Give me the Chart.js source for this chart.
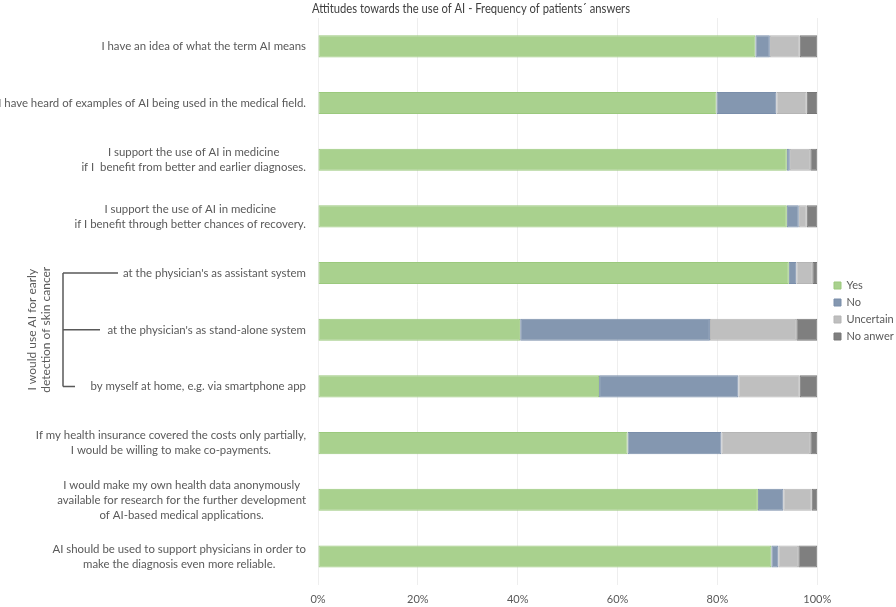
<!DOCTYPE html>
<html>
<head>
<meta charset="utf-8">
<title>Attitudes towards the use of AI</title>
<script src="https://cdn.jsdelivr.net/npm/chart.js@4.4.1/dist/chart.umd.min.js"></script>
<style>
    html, body { margin: 0; padding: 0; background: #fff; }
    #wrap { width: 896px; height: 607px; position: relative; }
</style>
</head>
<body>
<div id="wrap"><canvas id="chart"></canvas></div>
<script>
// Attitudes towards the use of AI - stacked bar chart

const chartTitle = 'Attitudes towards the use of AI - Frequency of patients\u00b4 answers';

const categories = [
    ['I have an idea of what the term AI means'],
    ['I have heard of examples of AI being used in the medical field.'],
    ['I support the use of AI in medicine', 'if I  benefit from better and earlier diagnoses.'],
    ['I support the use of AI in medicine', 'if I benefit through better chances of recovery.'],
    ["at the physician's as assistant system"],
    ["at the physician's as stand-alone system"],
    ['by myself at home, e.g. via smartphone app'],
    ['If my health insurance covered the costs only partially,', 'I would be willing to make co-payments.'],
    ['I would make my own health data anonymously', 'available for research for the further development', 'of AI-based medical applications.'],
    ['AI should be used to support physicians in order to', 'make the diagnosis even more reliable.']
];

const groupLabel = ['I would use AI for early', 'detection of skin cancer'];
const groupRows = [4, 5, 6];

const seriesNames = ['Yes', 'No', 'Uncertain', 'No anwer'];
const yesValues       = [87.6, 79.8, 93.9, 93.9, 94.3, 40.5, 56.3, 62.0, 88.1, 90.8];
const noValues        = [2.9, 12.0, 0.6, 2.4, 1.5, 38.0, 27.9, 18.8, 5.1, 1.4];
const uncertainValues = [6.0, 6.1, 4.1, 1.6, 3.2, 17.3, 12.3, 17.8, 5.7, 4.0];
const noAnswerValues  = [3.5, 2.1, 1.4, 2.1, 1.0, 4.2, 3.5, 1.4, 1.1, 3.8];

const xTicks = [0, 20, 40, 60, 80, 100];

const FONT = 'Lato, "Open Sans", sans-serif';
const TEXT_COLOR = '#595959';
const SQUEEZE = 0.95;   // Lato is a bit wider than the original Calibri

function squeezedText(ctx, text, x, y, factor) {
    const w = ctx.measureText(text).width;
    ctx.fillText(text, x, y, w * factor);
}

// Draws title, category labels and the bracket for the grouped rows
const labelPlugin = {
    id: 'labelPlugin',
    afterLayout(chart) {
        // move the legend a little away from the plot, like the original
        const lg = chart.legend;
        const w = lg.right - lg.left;
        lg.left = 828;
        lg.right = lg.left + w;
        lg.top -= 5;
        lg.bottom -= 5;
    },
    afterDraw(chart) {
        const ctx = chart.ctx;
        const yScale = chart.scales.y;

        ctx.save();
        ctx.fillStyle = '#404040';
        ctx.font = '13px ' + FONT;
        ctx.textAlign = 'center';
        ctx.textBaseline = 'middle';
        ctx.fillText(chartTitle, 471, 9, 318);

        // Category labels, each block centred and right-aligned to the plot
        ctx.fillStyle = TEXT_COLOR;
        ctx.font = '12px ' + FONT;
        const labelRight = 306;
        const lineH = 15;
        categories.forEach((lines, i) => {
            const yc = yScale.getPixelForValue(i);
            const maxW = Math.max(...lines.map(l => ctx.measureText(l).width)) * SQUEEZE;
            const cx = labelRight - maxW / 2;
            lines.forEach((l, j) => {
                squeezedText(ctx, l, cx, yc + (j - (lines.length - 1) / 2) * lineH, SQUEEZE);
            });
        });

        // Bracket
        const bx = 63;
        const tips = [118, 100, 75];
        const yTop = yScale.getPixelForValue(groupRows[0]);
        const yBot = yScale.getPixelForValue(groupRows[groupRows.length - 1]);
        ctx.strokeStyle = TEXT_COLOR;
        ctx.lineWidth = 1.5;
        ctx.beginPath();
        ctx.moveTo(bx, yTop);
        ctx.lineTo(bx, yBot);
        groupRows.forEach((r, k) => {
            const y = yScale.getPixelForValue(r);
            ctx.moveTo(bx, y);
            ctx.lineTo(tips[k], y);
        });
        ctx.stroke();

        // Rotated group text
        const yMid = (yTop + yBot) / 2;
        ctx.translate(39, yMid);
        ctx.rotate(-Math.PI / 2);
        groupLabel.forEach((l, j) => {
            ctx.fillText(l, 0, (j - 0.5) * 14);
        });
        ctx.restore();
    }
};

function makeDataset(label, data, color, border) {
    return {
        label: label,
        data: data,
        backgroundColor: color,
        borderColor: border,
        borderWidth: 1,
        borderSkipped: false,
        categoryPercentage: 1,
        barPercentage: 0.39
    };
}

const ctx = document.getElementById('chart');

new Chart(ctx, {
    type: 'bar',
    data: {
        labels: categories.map(c => c.join(' ')),
        datasets: [
            makeDataset(seriesNames[0], yesValues, '#A9D18E', '#9BC97D'),
            makeDataset(seriesNames[1], noValues, '#8497B0', '#7A8EAA'),
            makeDataset(seriesNames[2], uncertainValues, '#BFBFBF', '#B5B5B5'),
            makeDataset(seriesNames[3], noAnswerValues, '#7F7F7F', '#777777')
        ]
    },
    options: {
        indexAxis: 'y',
        responsive: true,
        maintainAspectRatio: false,
        animation: false,
        layout: {
            padding: { left: 310, top: 18, right: 3, bottom: -7 }
        },
        plugins: {
            title: { display: false },
            tooltip: { enabled: false },
            legend: {
                display: true,
                position: 'right',
                labels: {
                    boxWidth: 7,
                    boxHeight: 7,
                    padding: 6,
                    color: TEXT_COLOR,
                    font: { family: FONT, size: 11 }
                }
            }
        },
        scales: {
            x: {
                stacked: true,
                min: 0,
                max: 100,
                afterBuildTicks: axis => {
                    axis.ticks = xTicks.map(v => ({ value: v }));
                },
                ticks: {
                    callback: v => v + '%',
                    color: TEXT_COLOR,
                    padding: 8,
                    font: { family: FONT, size: 11 }
                },
                grid: { color: '#EEEEEE', drawTicks: false },
                border: { display: false }
            },
            y: {
                stacked: true,
                ticks: { display: false },
                grid: { display: false },
                border: { display: false }
            }
        }
    },
    plugins: [labelPlugin]
});
</script>
</body>
</html>
